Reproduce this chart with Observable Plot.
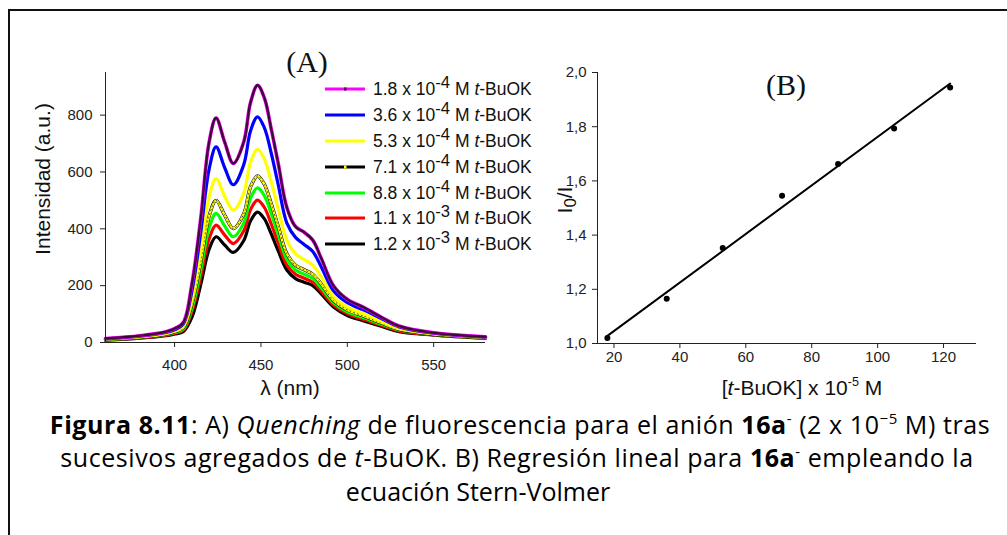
<!DOCTYPE html>
<html>
<head>
<meta charset="utf-8">
<script src="https://cdn.jsdelivr.net/npm/d3@7"></script>
<script src="https://cdn.jsdelivr.net/npm/@observablehq/plot@0.6"></script>
<style>
  html, body { margin: 0; padding: 0; background: #fff; }
  #page { position: relative; width: 1007px; height: 535px; overflow: hidden; background: #fff; }
  .abs { position: absolute; white-space: nowrap; }
  .ctr { transform: translate(-50%, -50%); }
  .arial { font-family: "Liberation Sans", Arial, sans-serif; color: #111; }
  .serif { font-family: "Liberation Serif", "Times New Roman", serif; color: #111; }
  .cap { font-family: "Open Sans", "Lato", sans-serif; color: #000; font-size: 25px; text-align: center; }
  sup.s { font-size: 0.95em; vertical-align: 0.42em; line-height: 0; }
  sup.c { font-size: 0.6em; vertical-align: 0.7em; line-height: 0; }
  .legrow { position: absolute; left: 325px; height: 24px; display: flex; align-items: center; }
  .legrow svg { display: block; }
  .legrow span { margin-left: 8px; font-size: 17.5px; }
</style>
</head>
<body>
<div id="page">
  <div class="abs" style="left:8px; top:9px; width:1010px; height:540px; border-top:2px solid #111; border-left:2px solid #111;"></div>
  <div id="plotA" class="abs" style="left:0; top:0;"></div>
  <div id="plotB" class="abs" style="left:500px; top:0;"></div>
  <div id="texts"></div>
</div>
<script>
// ---------- Data: panel A (emission spectra) ----------
const wavelengths = [360, 380, 395, 400, 405, 410, 415, 420, 424, 429, 434, 440, 444, 448, 452, 456, 460, 465, 470, 475, 480, 485, 492, 500, 510, 520, 530, 550, 580];
const s18  = [14, 24, 38, 49, 70, 205, 430, 705, 790, 705, 630, 705, 845, 905, 860, 750, 630, 475, 408, 388, 360, 295, 200, 152, 122, 88, 58, 34, 20];
const s36  = [13, 22, 35, 45, 65, 180, 380, 610, 688, 615, 555, 625, 745, 794, 755, 665, 555, 420, 370, 345, 320, 265, 182, 140, 113, 83, 55, 33, 19];
const s53  = [12, 20, 32, 41, 58, 155, 322, 512, 577, 515, 466, 525, 635, 680, 645, 565, 470, 360, 312, 292, 272, 230, 162, 125, 100, 74, 49, 31, 18];
const s71  = [11, 19, 30, 38, 52, 135, 280, 445, 500, 448, 401, 452, 548, 586, 556, 487, 408, 312, 272, 256, 240, 205, 148, 115, 92, 68, 46, 29, 17];
const s88  = [10, 18, 28, 35, 47, 120, 252, 403, 454, 410, 372, 420, 508, 544, 516, 452, 380, 292, 255, 240, 225, 192, 140, 108, 86, 64, 44, 28, 17];
const s110 = [9, 17, 26, 33, 43, 108, 228, 365, 413, 378, 348, 392, 468, 501, 475, 416, 350, 272, 240, 226, 212, 180, 132, 102, 80, 60, 41, 27, 16];
const s120 = [8, 15, 24, 30, 38, 88, 200, 328, 372, 343, 317, 358, 428, 459, 435, 381, 322, 255, 225, 212, 200, 170, 125, 95, 75, 56, 38, 26, 15];
const seriesValues = [s18, s36, s53, s71, s88, s110, s120];
const seriesMant = ["1.8", "3.6", "5.3", "7.1", "8.8", "1.1", "1.2"];
const seriesExp  = ["-4", "-4", "-4", "-4", "-4", "-3", "-3"];
const seriesColors = ["#ff00ff", "#0000ff", "#ffff00", "#000000", "#00ff00", "#ff0000", "#000000"];
const seriesMarkColors = ["#3a0a34", null, null, "#ffff00", null, null, null];
const xTicksA = [400, 450, 500, 550];
const yTicksA = [0, 200, 400, 600, 800];

// ---------- Data: panel B (Stern-Volmer) ----------
const conc = [18, 36, 53, 71, 88, 105, 122];
const ratio = [1.02, 1.165, 1.352, 1.545, 1.662, 1.793, 1.945];
const xTicksB = [20, 40, 60, 80, 100, 120];
const yTicksB = [1.0, 1.2, 1.4, 1.6, 1.8, 2.0];

// ---------- Panel A ----------
const spectra = [];
seriesValues.forEach((vals, k) => vals.forEach((v, i) => spectra.push({nm: wavelengths[i], I: v, k})));

const marksA = [];
for (let k = seriesValues.length - 1; k >= 0; k--) {
  const d = spectra.filter(r => r.k === k);
  if (k === 3) {
    marksA.push(Plot.line(d, {x: "nm", y: "I", stroke: "#000", strokeWidth: 3.4, curve: "catmull-rom"}));
    marksA.push(Plot.line(d, {x: "nm", y: "I", stroke: "#ffff00", strokeWidth: 2.4, curve: "catmull-rom"}));
    marksA.push(Plot.line(d, {x: "nm", y: "I", stroke: "#444", strokeWidth: 1, strokeDasharray: "1,3", curve: "catmull-rom"}));
  } else if (k === 0) {
    marksA.push(Plot.line(d, {x: "nm", y: "I", stroke: "#ff00ff", strokeWidth: 3.6, curve: "catmull-rom"}));
    marksA.push(Plot.line(d, {x: "nm", y: "I", stroke: "#3a0a34", strokeWidth: 2.4, strokeDasharray: "2.5,1", curve: "catmull-rom"}));
  } else {
    marksA.push(Plot.line(d, {x: "nm", y: "I", stroke: seriesColors[k], strokeWidth: 3.2, curve: "catmull-rom"}));
  }
}

const plotA = Plot.plot({
  width: 500, height: 400,
  marginLeft: 105, marginRight: 15, marginTop: 72, marginBottom: 58,
  x: {domain: [360, 580]},
  y: {domain: [0, 950]},
  style: {fontFamily: "'Liberation Sans', Arial, sans-serif", fontSize: "15px", color: "#222", background: "transparent", overflow: "visible"},
  marks: [
    ...marksA,
    Plot.ruleY([0], {stroke: "#222", strokeWidth: 1}),
    Plot.ruleX([360], {stroke: "#222", strokeWidth: 1}),
    Plot.axisX({ticks: xTicksA, tickSize: 5, tickPadding: 12, label: null}),
    Plot.axisY({ticks: yTicksA, tickSize: 5, tickPadding: 8, label: null})
  ]
});
document.getElementById("plotA").appendChild(plotA);

// ---------- Panel B ----------
const ptsB = conc.map((c, i) => ({c, r: ratio[i]}));
const plotB = Plot.plot({
  width: 507, height: 400,
  marginLeft: 97, marginRight: 31, marginTop: 72, marginBottom: 57,
  x: {domain: [15, 130]},
  y: {domain: [1.0, 2.0]},
  style: {fontFamily: "'Liberation Sans', Arial, sans-serif", fontSize: "15px", color: "#222", background: "transparent", overflow: "visible"},
  marks: [
    Plot.ruleY([1.0], {stroke: "#222", strokeWidth: 1}),
    Plot.ruleX([15], {stroke: "#222", strokeWidth: 1}),
    Plot.linearRegressionY(ptsB, {x: "c", y: "r", stroke: "#000", strokeWidth: 2, ci: 0}),
    Plot.dot(ptsB, {x: "c", y: "r", r: 3, fill: "#000", stroke: "none"}),
    Plot.axisX({ticks: xTicksB, tickSize: 5, tickPadding: 3, label: null}),
    Plot.axisY({ticks: yTicksB, tickSize: 5, tickPadding: 6, label: null, tickFormat: d => d.toFixed(1).replace(".", ",")})
  ]
});
document.getElementById("plotB").appendChild(plotB);

// ---------- Texts ----------
const T = document.getElementById("texts");
function add(html, cls, style) {
  const el = document.createElement("div");
  el.className = "abs " + cls;
  el.setAttribute("style", style);
  el.innerHTML = html;
  T.appendChild(el);
  return el;
}
add("(A)", "serif ctr", "left:307px; top:62px; font-size:30px;");
add("(B)", "serif ctr", "left:786px; top:85px; font-size:30px;");
add("Intensidad (a.u.)", "arial", "left:43px; top:179px; font-size:21px; transform: translate(-50%,-50%) rotate(-90deg);");
add("λ (nm)", "arial ctr", "left:290px; top:388px; font-size:21px;");
add("I<sub style='font-size:0.8em;vertical-align:-0.25em;line-height:0'>0</sub>/I", "arial", "left:565px; top:200px; font-size:21px; transform: translate(-50%,-50%) rotate(-90deg);");
add("[<i>t</i>-BuOK] x 10<sup class='c'>-5</sup> M", "arial ctr", "left:802px; top:388px; font-size:21px;");

// Legend
const rowY = [89, 115, 141, 167, 193, 218, 244];
seriesMant.forEach((m, k) => {
  const row = document.createElement("div");
  row.className = "legrow arial";
  row.style.top = (rowY[k] - 12) + "px";
  const mk = seriesMarkColors[k];
  row.innerHTML =
    `<svg width="40" height="24"><line x1="0" y1="12" x2="40" y2="12" stroke="${seriesColors[k]}" stroke-width="3"/>` +
    (mk ? `<rect x="19" y="10.5" width="2.5" height="3" fill="${mk}"/>` : "") +
    `</svg><span>${m} x 10<sup class="s">${seriesExp[k]}</sup> M <i>t</i>-BuOK</span>`;
  T.appendChild(row);
});

// Caption
const c1 = add("<b>Figura 8.11</b>: A) <i>Quenching</i> de fluorescencia para el anión <b>16a</b><sup class='c'>-</sup> (2 x 10<sup class='c'>−5</sup> M) tras",
    "cap ctr", "left:520px; top:424px;");
const c2 = add("sucesivos agregados de <i>t</i>-BuOK. B) Regresión lineal para <b>16a</b><sup class='c'>-</sup> empleando la",
    "cap ctr", "left:517px; top:457px;");
const c3 = add("ecuación Stern-Volmer", "cap ctr", "left:478px; top:491px;");
const w1 = c1.getBoundingClientRect().width;
const n1 = c1.textContent.length;
const ls = (940 - w1) / n1;
[c1, c2].forEach(c => c.style.letterSpacing = ls.toFixed(2) + "px");
</script>
</body>
</html>
